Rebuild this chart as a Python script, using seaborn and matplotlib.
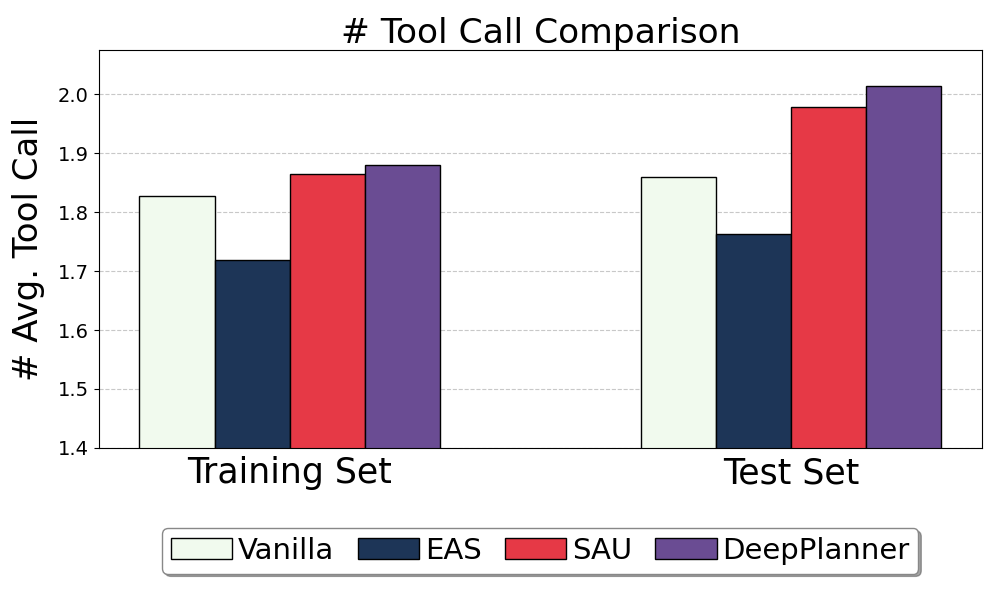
import numpy as np
import pandas as pd
import matplotlib
matplotlib.use("Agg")
import matplotlib.pyplot as plt
import seaborn as sns

# data
splits = ["Training Set", "Test Set"]
methods = ["Vanilla", "EAS", "SAU", "DeepPlanner"]
vanilla = [1.827, 1.860]
eas = [1.719, 1.763]
sau = [1.865, 1.978]
deepplanner = [1.880, 2.015]

colors = ["#f1faee", "#1d3557", "#e63946", "#6a4c93"]

rows = []
for m, vals in zip(methods, [vanilla, eas, sau, deepplanner]):
    for s, v in zip(splits, vals):
        rows.append({"split": s, "method": m, "value": v})
df = pd.DataFrame(rows)

sns.set_style("ticks")
plt.rcParams['font.family'] = ['DejaVu Sans']
plt.rcParams['text.color'] = 'black'
plt.rcParams['axes.labelcolor'] = 'black'
plt.rcParams['xtick.color'] = 'black'
plt.rcParams['ytick.color'] = 'black'

fig, ax = plt.subplots(figsize=(9.97, 5.98), dpi=100)
fig.subplots_adjust(left=0.099, right=0.985, top=0.916, bottom=0.251)

sns.barplot(data=df, x="split", y="value", hue="method", order=splits,
            hue_order=methods, palette=colors, width=0.6, saturation=1,
            edgecolor="black", linewidth=1.0, ax=ax, legend=True)

ax.set_ylim(1.4, 2.075)
ax.set_xlim(-0.381, 1.381)
ax.set_yticks([1.4, 1.5, 1.6, 1.7, 1.8, 1.9, 2.0])
ax.yaxis.grid(True, linestyle="--", color="#c8c8c8", linewidth=0.8)
ax.set_axisbelow(True)
for sp in ax.spines.values():
    sp.set_visible(True)
    sp.set_color("black")

ax.set_title("# Tool Call Comparison", fontsize=24.8, pad=4)
ax.set_ylabel("# Avg. Tool Call", fontsize=24.5, labelpad=9)
ax.set_xlabel("")
ax.tick_params(axis="x", labelsize=25, length=0, pad=6)
ax.tick_params(axis="y", labelsize=14)

ax.legend(loc="upper center", bbox_to_anchor=(0.5, -0.165), ncol=4,
          fontsize=21, frameon=True, fancybox=True, shadow=True,
          handlelength=2.1, columnspacing=0.8, handletextpad=0.2,
          borderpad=0.3, edgecolor="#888888")

plt.savefig("out.png", dpi=100)
